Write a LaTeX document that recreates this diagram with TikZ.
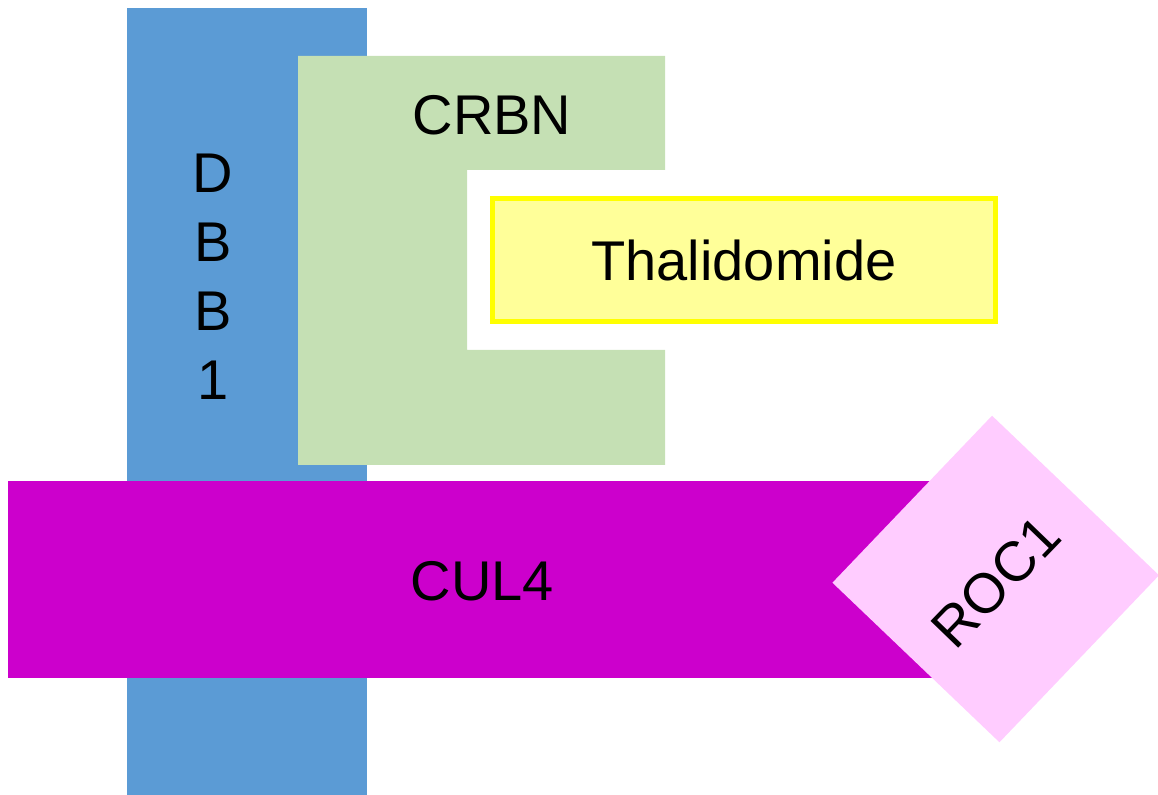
\documentclass[tikz,border=0pt]{standalone}
\usepackage{fontspec}
\setmainfont{Liberation Sans}
\definecolor{dbbblue}{HTML}{5B9BD5}
\definecolor{crbngreen}{HTML}{C5E0B4}
\definecolor{thalfill}{HTML}{FFFF99}
\definecolor{thaldraw}{HTML}{FFFF00}
\definecolor{culmag}{HTML}{CC00CC}
\definecolor{rocpink}{HTML}{FFCCFF}
\tikzset{
  block/.style={rectangle, draw=none, inner sep=0pt, outer sep=0pt},
  lbl/.style={inner sep=0pt, outer sep=0pt, font=\fontsize{28}{34.5}\selectfont, text=black},
}
\begin{document}
\begin{tikzpicture}[x=0.5pt,y=-0.5pt]
\useasboundingbox (0,0) rectangle (1158,795);
% DBB1
\node[block, fill=dbbblue, minimum width=120pt, minimum height=393.5pt] (dbb) at (247,401.5) {};
\node[lbl, align=center] (dbblabel) at (213,277) {D\\B\\B\\1};
% CRBN
\fill[crbngreen] (298,56) -- (665,56) -- (665,170) -- (467,170) -- (467,350) -- (665,350) -- (665,465) -- (298,465) -- cycle;
\node[lbl, anchor=base] (crbn) at (492,135) {CRBN};
% Thalidomide
\node[block, fill=thalfill, draw=thaldraw, line width=2.5pt, minimum width=251.5pt, minimum height=61.5pt] (thal) at (744,260) {};
\node[lbl, anchor=base] (thallabel) at (744,281) {Thalidomide};
% CUL4
\node[block, fill=culmag, minimum width=474pt, minimum height=98.5pt] (cul) at (482,579.5) {};
\node[lbl, anchor=base] (cullabel) at (482.5,601) {CUL4};
% ROC1
\node[block, fill=rocpink, minimum width=115.5pt, minimum height=115.5pt, rotate=46.3] (roc) at (995.75,579) {};
\node[lbl, rotate=46] (roclabel) at (996,582) {ROC1};
\end{tikzpicture}
\end{document}
